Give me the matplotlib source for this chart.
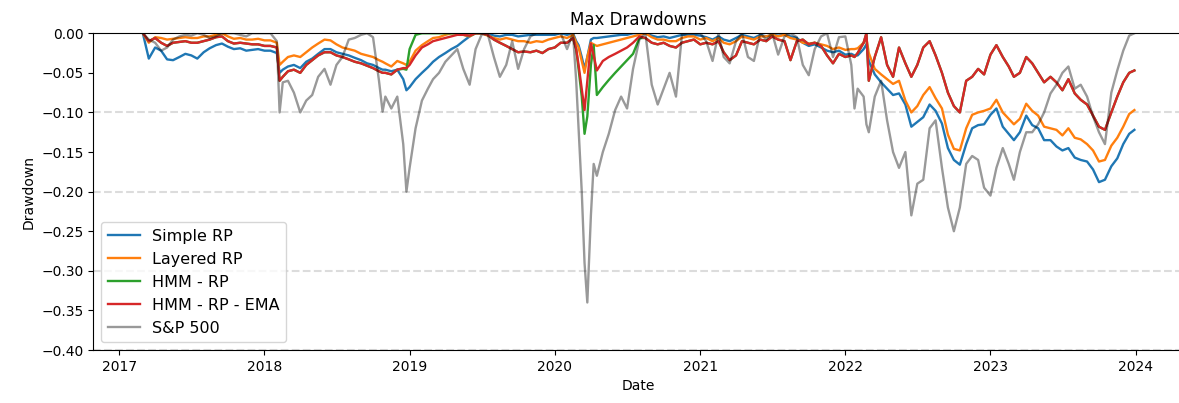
import matplotlib
matplotlib.use("Agg")
import matplotlib.pyplot as plt
import pandas as pd

# drawdown samples (1st / 16th of each month, plus a few extra dates around sell-offs)
dates = [
    # 2017
    '2017-03-01', '2017-03-16', '2017-04-01', '2017-04-16', '2017-05-01', '2017-05-16',
    '2017-06-01', '2017-06-16', '2017-07-01', '2017-07-16', '2017-08-01', '2017-08-16',
    '2017-09-01', '2017-09-16', '2017-10-01', '2017-10-16', '2017-11-01', '2017-11-16',
    '2017-12-01', '2017-12-16',
    # 2018
    '2018-01-01', '2018-01-16', '2018-02-01', '2018-02-08', '2018-02-16', '2018-03-01',
    '2018-03-16', '2018-04-01', '2018-04-16', '2018-05-01', '2018-05-16', '2018-06-01',
    '2018-06-16', '2018-07-01', '2018-07-16', '2018-08-01', '2018-08-16', '2018-09-01',
    '2018-09-16', '2018-10-01', '2018-10-16', '2018-10-25', '2018-11-01', '2018-11-16',
    '2018-12-01', '2018-12-16', '2018-12-24',
    # 2019
    '2019-01-01', '2019-01-16', '2019-02-01', '2019-02-16', '2019-03-01', '2019-03-16',
    '2019-04-01', '2019-04-16', '2019-05-01', '2019-05-16', '2019-06-01', '2019-06-16',
    '2019-07-01', '2019-07-16', '2019-08-01', '2019-08-16', '2019-09-01', '2019-09-16',
    '2019-10-01', '2019-10-16', '2019-11-01', '2019-11-16', '2019-12-01', '2019-12-16',
    # 2020
    '2020-01-01', '2020-01-16', '2020-02-01', '2020-02-16', '2020-02-24', '2020-03-01',
    '2020-03-09', '2020-03-16', '2020-03-23', '2020-04-01', '2020-04-08', '2020-04-16',
    '2020-05-01', '2020-05-16', '2020-06-01', '2020-06-16', '2020-07-01', '2020-07-16',
    '2020-08-01', '2020-08-16', '2020-09-01', '2020-09-16', '2020-10-01', '2020-10-16',
    '2020-11-01', '2020-11-16', '2020-12-01', '2020-12-16',
    # 2021
    '2021-01-01', '2021-01-16', '2021-02-01', '2021-02-16', '2021-03-01', '2021-03-16',
    '2021-04-01', '2021-04-16', '2021-05-01', '2021-05-16', '2021-06-01', '2021-06-16',
    '2021-07-01', '2021-07-16', '2021-08-01', '2021-08-16', '2021-09-01', '2021-09-16',
    '2021-10-01', '2021-10-16', '2021-11-01', '2021-11-16', '2021-12-01', '2021-12-16',
    # 2022
    '2022-01-01', '2022-01-16', '2022-01-24', '2022-02-01', '2022-02-16', '2022-02-23',
    '2022-03-01', '2022-03-16', '2022-04-01', '2022-04-16', '2022-05-01', '2022-05-16',
    '2022-06-01', '2022-06-16', '2022-07-01', '2022-07-16', '2022-08-01', '2022-08-16',
    '2022-09-01', '2022-09-16', '2022-10-01', '2022-10-16', '2022-11-01', '2022-11-16',
    '2022-12-01', '2022-12-16',
    # 2023
    '2023-01-01', '2023-01-16', '2023-02-01', '2023-02-16', '2023-03-01', '2023-03-16',
    '2023-04-01', '2023-04-16', '2023-05-01', '2023-05-16', '2023-06-01', '2023-06-16',
    '2023-07-01', '2023-07-16', '2023-08-01', '2023-08-16', '2023-09-01', '2023-09-16',
    '2023-10-01', '2023-10-16', '2023-11-01', '2023-11-16', '2023-12-01', '2023-12-16',
    '2023-12-29',
]

simple_rp = [
    # 2017
    0.0, -0.032, -0.018, -0.022, -0.033, -0.034, -0.030, -0.026, -0.028, -0.032,
    -0.024, -0.019, -0.015, -0.013, -0.017, -0.020, -0.019, -0.022, -0.021, -0.020,
    # 2018
    -0.022, -0.022, -0.025, -0.050, -0.046, -0.042, -0.040, -0.044, -0.036, -0.032,
    -0.026, -0.020, -0.020, -0.024, -0.026, -0.028, -0.031, -0.034, -0.038, -0.040,
    -0.044, -0.046, -0.046, -0.048, -0.046, -0.058, -0.072,
    # 2019
    -0.068, -0.058, -0.050, -0.043, -0.036, -0.030, -0.025, -0.020, -0.016, -0.010,
    -0.004, 0.0, 0.0, 0.0, -0.003, -0.004, -0.002, -0.002, -0.004, -0.003,
    -0.002, -0.002, -0.002, -0.002,
    # 2020
    -0.002, 0.0, -0.002, 0.0, -0.010, -0.015, -0.030, -0.045, -0.030, -0.008,
    -0.006, -0.006, -0.005, -0.004, -0.003, -0.002, -0.002, 0.0, 0.0, 0.0,
    -0.003, -0.005, -0.004, -0.006, -0.004, -0.002, -0.002, -0.002,
    # 2021
    -0.003, -0.005, -0.008, -0.004, -0.008, -0.010, -0.006, -0.002, -0.004, -0.006,
    -0.002, -0.004, -0.002, -0.003, -0.002, -0.004, -0.006, -0.012, -0.016, -0.014,
    -0.018, -0.022, -0.024, -0.022,
    # 2022
    -0.027, -0.026, -0.028, -0.028, -0.020, -0.014, -0.035, -0.052, -0.062, -0.070,
    -0.078, -0.076, -0.090, -0.118, -0.112, -0.106, -0.090, -0.098, -0.114, -0.145,
    -0.160, -0.166, -0.140, -0.120, -0.116, -0.115,
    # 2023
    -0.103, -0.095, -0.118, -0.127, -0.135, -0.125, -0.104, -0.116, -0.120, -0.135,
    -0.135, -0.143, -0.148, -0.145, -0.157, -0.160, -0.162, -0.172, -0.188, -0.185,
    -0.168, -0.158, -0.140, -0.127, -0.122,
]

layered_rp = [
    # 2017
    0.0, -0.012, -0.005, -0.006, -0.008, -0.007, -0.006, -0.005, -0.006, -0.006,
    -0.004, -0.004, -0.002, 0.0, -0.004, -0.007, -0.006, -0.008, -0.008, -0.007,
    # 2018
    -0.009, -0.009, -0.012, -0.040, -0.036, -0.030, -0.028, -0.030, -0.024, -0.018,
    -0.013, -0.008, -0.009, -0.014, -0.018, -0.020, -0.022, -0.026, -0.028, -0.030,
    -0.034, -0.036, -0.038, -0.042, -0.035, -0.038, -0.040,
    # 2019
    -0.036, -0.022, -0.015, -0.010, -0.006, -0.005, -0.002, 0.0, 0.0, -0.002,
    -0.004, 0.0, 0.0, -0.003, -0.006, -0.008, -0.006, -0.008, -0.010, -0.010,
    -0.012, -0.010, -0.011, -0.008,
    # 2020
    -0.006, -0.004, -0.006, -0.002, -0.012, -0.018, -0.035, -0.050, -0.030, -0.012,
    -0.014, -0.016, -0.014, -0.012, -0.010, -0.008, -0.006, -0.004, -0.002, 0.0,
    -0.005, -0.008, -0.008, -0.010, -0.010, -0.006, -0.004, -0.004,
    # 2021
    -0.008, -0.006, -0.010, -0.006, -0.012, -0.014, -0.010, -0.004, -0.006, -0.008,
    -0.004, -0.004, -0.002, -0.004, -0.002, -0.006, -0.008, -0.012, -0.013, -0.012,
    -0.014, -0.016, -0.020, -0.018,
    # 2022
    -0.021, -0.020, -0.020, -0.019, -0.012, -0.006, -0.025, -0.045, -0.052, -0.058,
    -0.064, -0.060, -0.085, -0.100, -0.092, -0.078, -0.068, -0.082, -0.095, -0.128,
    -0.146, -0.148, -0.120, -0.103, -0.100, -0.098,
    # 2023
    -0.095, -0.084, -0.100, -0.108, -0.115, -0.108, -0.089, -0.098, -0.104, -0.118,
    -0.120, -0.122, -0.129, -0.120, -0.132, -0.134, -0.140, -0.148, -0.162, -0.160,
    -0.142, -0.132, -0.118, -0.102, -0.097,
]

hmm_rp = [
    # 2017
    0.0, -0.010, -0.006, -0.012, -0.016, -0.012, -0.011, -0.010, -0.012, -0.012,
    -0.010, -0.008, -0.005, -0.004, -0.010, -0.013, -0.012, -0.013, -0.014, -0.014,
    # 2018
    -0.016, -0.016, -0.018, -0.060, -0.055, -0.048, -0.046, -0.050, -0.040, -0.034,
    -0.028, -0.024, -0.024, -0.028, -0.030, -0.033, -0.036, -0.038, -0.041, -0.044,
    -0.048, -0.050, -0.050, -0.052, -0.046, -0.045, -0.046,
    # 2019
    -0.020, -0.002, 0.0, 0.0, 0.0, 0.0, 0.0, 0.0, 0.0, -0.002,
    -0.003, 0.0, 0.0, -0.002, -0.008, -0.012, -0.016, -0.020, -0.024, -0.023,
    -0.024, -0.022, -0.025, -0.020,
    # 2020
    -0.018, -0.012, -0.012, -0.006, -0.020, -0.045, -0.080, -0.127, -0.105, -0.040,
    -0.015, -0.078, -0.068, -0.059, -0.050, -0.042, -0.034, -0.026, -0.006, -0.006,
    -0.012, -0.014, -0.012, -0.016, -0.018, -0.012, -0.010, -0.008,
    # 2021
    -0.014, -0.012, -0.014, -0.010, -0.024, -0.034, -0.028, -0.010, -0.012, -0.014,
    -0.008, -0.010, -0.004, -0.008, -0.010, -0.034, -0.010, -0.008, -0.014, -0.012,
    -0.016, -0.028, -0.038, -0.026,
    # 2022
    -0.030, -0.028, -0.030, -0.025, -0.012, 0.0, -0.060, -0.030, -0.005, -0.040,
    -0.055, -0.018, -0.038, -0.055, -0.040, -0.018, -0.010, -0.028, -0.050, -0.075,
    -0.092, -0.100, -0.060, -0.055, -0.045, -0.052,
    # 2023
    -0.027, -0.015, -0.030, -0.042, -0.055, -0.050, -0.030, -0.038, -0.050, -0.062,
    -0.055, -0.062, -0.072, -0.058, -0.076, -0.084, -0.090, -0.104, -0.118, -0.122,
    -0.100, -0.080, -0.062, -0.050, -0.047,
]

hmm_rp_ema = [
    # 2017
    0.0, -0.010, -0.006, -0.012, -0.016, -0.012, -0.011, -0.010, -0.012, -0.012,
    -0.010, -0.008, -0.005, -0.004, -0.010, -0.013, -0.012, -0.013, -0.014, -0.014,
    # 2018
    -0.016, -0.016, -0.018, -0.060, -0.055, -0.048, -0.046, -0.050, -0.040, -0.034,
    -0.028, -0.024, -0.024, -0.028, -0.030, -0.033, -0.036, -0.038, -0.041, -0.044,
    -0.048, -0.050, -0.050, -0.052, -0.046, -0.044, -0.044,
    # 2019
    -0.040, -0.028, -0.018, -0.014, -0.010, -0.008, -0.006, -0.004, -0.002, -0.002,
    -0.003, 0.0, 0.0, -0.002, -0.008, -0.012, -0.016, -0.020, -0.024, -0.023,
    -0.024, -0.022, -0.025, -0.020,
    # 2020
    -0.018, -0.012, -0.012, -0.006, -0.020, -0.040, -0.070, -0.097, -0.060, -0.013,
    -0.028, -0.047, -0.035, -0.030, -0.026, -0.022, -0.018, -0.012, -0.004, -0.006,
    -0.012, -0.014, -0.012, -0.016, -0.018, -0.012, -0.010, -0.008,
    # 2021
    -0.014, -0.012, -0.014, -0.010, -0.024, -0.034, -0.028, -0.010, -0.012, -0.014,
    -0.008, -0.010, -0.004, -0.008, -0.010, -0.034, -0.010, -0.008, -0.014, -0.012,
    -0.016, -0.028, -0.038, -0.026,
    # 2022
    -0.030, -0.028, -0.030, -0.025, -0.012, 0.0, -0.060, -0.030, -0.005, -0.040,
    -0.055, -0.018, -0.038, -0.055, -0.040, -0.018, -0.010, -0.028, -0.050, -0.075,
    -0.092, -0.100, -0.060, -0.055, -0.045, -0.052,
    # 2023
    -0.027, -0.015, -0.030, -0.042, -0.055, -0.050, -0.030, -0.038, -0.050, -0.062,
    -0.055, -0.062, -0.072, -0.058, -0.076, -0.084, -0.090, -0.104, -0.118, -0.122,
    -0.100, -0.080, -0.062, -0.050, -0.047,
]

sp500 = [
    # 2017
    0.0, -0.008, -0.012, -0.022, -0.018, -0.008, -0.004, -0.002, -0.003, 0.0,
    -0.002, -0.006, -0.004, 0.0, 0.0, 0.0, -0.002, -0.004, 0.0, 0.0,
    # 2018
    0.0, 0.0, -0.010, -0.100, -0.062, -0.060, -0.075, -0.100, -0.085, -0.078,
    -0.055, -0.045, -0.065, -0.040, -0.030, -0.008, -0.006, -0.002, 0.0, -0.005,
    -0.060, -0.099, -0.080, -0.095, -0.080, -0.140, -0.200,
    # 2019
    -0.170, -0.120, -0.085, -0.070, -0.058, -0.050, -0.036, -0.028, -0.020, -0.045,
    -0.065, -0.020, -0.002, 0.0, -0.030, -0.055, -0.040, -0.010, -0.045, -0.020,
    -0.004, 0.0, 0.0, 0.0,
    # 2020
    0.0, 0.0, -0.020, 0.0, -0.060, -0.120, -0.200, -0.290, -0.340, -0.230,
    -0.165, -0.180, -0.150, -0.127, -0.097, -0.080, -0.095, -0.045, -0.008, 0.0,
    -0.065, -0.090, -0.070, -0.050, -0.080, -0.002, 0.0, 0.0,
    # 2021
    0.0, -0.010, -0.035, 0.0, -0.030, -0.038, -0.010, 0.0, -0.030, -0.035,
    0.0, -0.008, 0.0, -0.027, -0.004, 0.0, -0.005, -0.040, -0.053, -0.020,
    -0.004, 0.0, -0.030, -0.005,
    # 2022
    -0.004, -0.040, -0.095, -0.070, -0.080, -0.115, -0.125, -0.080, -0.060, -0.110,
    -0.150, -0.170, -0.150, -0.230, -0.190, -0.185, -0.120, -0.110, -0.170, -0.220,
    -0.250, -0.220, -0.165, -0.155, -0.160, -0.195,
    # 2023
    -0.205, -0.170, -0.145, -0.165, -0.185, -0.150, -0.125, -0.125, -0.115, -0.100,
    -0.076, -0.065, -0.050, -0.042, -0.070, -0.065, -0.080, -0.105, -0.125, -0.140,
    -0.075, -0.047, -0.022, -0.003, 0.0,
]

d = pd.to_datetime(dates)

fig = plt.figure(figsize=(11.79, 4.03), dpi=100)
ax = fig.add_axes([0.0791, 0.1315, 0.9251, 0.786])

for lvl in [-0.1, -0.2, -0.3, -0.4]:
    ax.axhline(lvl, color='#dcdcdc', linestyle='--', linewidth=1.5, zorder=0)

lw = 1.7
ax.plot(d, simple_rp, color='tab:blue', lw=lw, label='Simple RP')
ax.plot(d, layered_rp, color='tab:orange', lw=lw, label='Layered RP')
ax.plot(d, hmm_rp, color='tab:green', lw=lw, label='HMM - RP')
ax.plot(d, hmm_rp_ema, color='tab:red', lw=lw, label='HMM - RP - EMA')
ax.plot(d, sp500, color='black', alpha=0.4, lw=lw, label='S&P 500')

ax.set_ylim(-0.4, 0)
ax.set_title('Max Drawdowns')
ax.set_xlabel('Date')
ax.set_ylabel('Drawdown')
ax.legend(loc='lower left', fontsize=11.5)

fig.savefig('out.png')
